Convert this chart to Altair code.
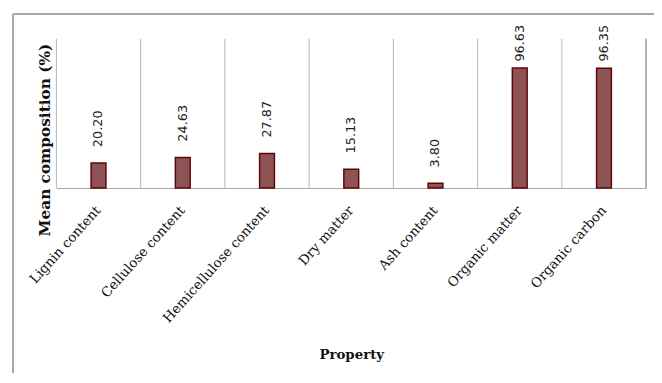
import altair as alt
import pandas as pd

categories = ["Lignin content", "Cellulose content", "Hemicellulose content",
              "Dry matter", "Ash content", "Organic matter", "Organic carbon"]
values = [20.20, 24.63, 27.87, 15.13, 3.80, 96.63, 96.35]
value_labels = ["20.20", "24.63", "27.87", "15.13", "3.80", "96.63", "96.35"]

df = pd.DataFrame({"Property": categories, "value": values, "label": value_labels})

W, H = 597, 151
GRID = "#B4B4B4"

xscale = alt.Scale(domain=categories, paddingInner=0, paddingOuter=0)
yscale = alt.Scale(domain=[0, 120], nice=False)

xaxis = alt.Axis(
    title="Property", labelAngle=-48, labelAlign="right", labelBaseline="middle",
    labelFont="DejaVu Serif", labelFontSize=13.5, labelColor="#111",
    labelPadding=20, ticks=False, grid=False, domain=True,
    domainColor="#A8A8A8", domainWidth=1.2,
    titleFont="DejaVu Serif", titleFontWeight="bold", titleFontSize=13.5,
    titleColor="#111", titleY=169, titleBaseline="middle", labelLimit=300,
)
yaxis = alt.Axis(
    title="Mean composition (%)", labels=False, ticks=False, domain=False, grid=False,
    titleFont="DejaVu Serif", titleFontWeight="bold", titleFontSize=15.5,
    titleColor="#111", titleAngle=270, titleX=-12, titleY=102,
    titleAlign="center", titleBaseline="middle",
)

base = alt.Chart(df)

bars = base.mark_bar(size=15, fill="#8E5354", stroke="#5E0707", strokeWidth=1.5).encode(
    x=alt.X("Property:N", sort=categories, scale=xscale, axis=xaxis),
    y=alt.Y("value:Q", scale=yscale, axis=yaxis),
)

grid = base.mark_rule(color=GRID, strokeWidth=1).encode(
    x=alt.X("Property:N", sort=categories, scale=xscale, bandPosition=0, axis=xaxis),
    y=alt.value(0),
    y2=alt.value(H),
)

right_edge = base.mark_rule(color=GRID, strokeWidth=1).encode(
    x=alt.value(W), y=alt.value(0), y2=alt.value(H)
)

frame_left = base.mark_rule(color="#A8A8A8", strokeWidth=1.2).encode(
    x=alt.value(-44), y=alt.value(-25), y2=alt.value(400)
)
frame_top = base.mark_rule(color="#A8A8A8", strokeWidth=1.2).encode(
    x=alt.value(-44), x2=alt.value(700), y=alt.value(-25)
)

texts = base.transform_calculate(
    ly="min(datum.value + 12.7, 101.7)"
).mark_text(
    angle=270, align="left", baseline="middle", font="DejaVu Sans", fontSize=13,
    color="#222",
).encode(
    x=alt.X("Property:N", sort=categories, scale=xscale, axis=xaxis),
    y=alt.Y("ly:Q", scale=yscale, axis=yaxis),
    text="label:N",
)

chart = alt.layer(grid, right_edge, frame_left, frame_top, bars, texts).properties(
    width=W, height=H,
    autosize=alt.AutoSizeParams(type="none"),
    padding={"left": 49, "top": 29, "right": 8, "bottom": 185},
).configure_view(stroke=None)

chart.save("out.html", embed_options={"renderer": "svg", "actions": False})
